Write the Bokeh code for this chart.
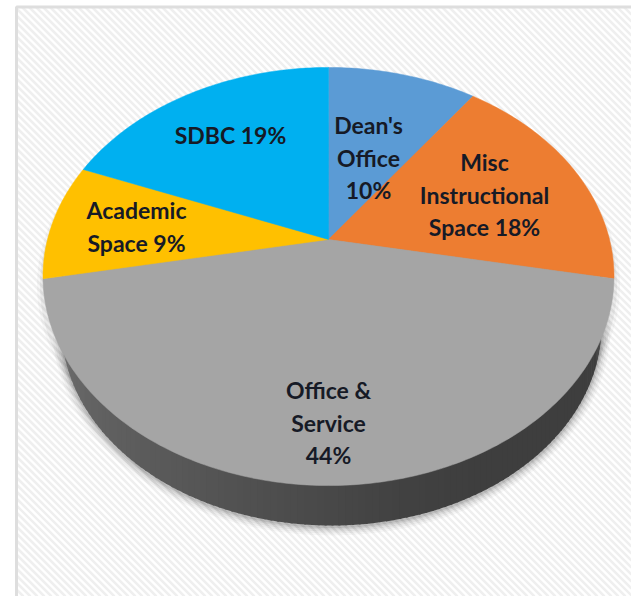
from math import cos, sin, pi
from bokeh.plotting import figure
from bokeh.models import ColumnDataSource
from bokeh.core.properties import value
from bokeh.embed import file_html
from bokeh.resources import INLINE

# Slices run clockwise from twelve o'clock
categories = ["Dean's Office", "Misc Instructional Space", "Office & Service", "Academic Space", "SDBC"]
shares = [10, 18, 44, 9, 19]
colors = ["#5B9BD5", "#ED7D31", "#A5A5A5", "#FFC000", "#00B0F0"]
label_lines = [
    ["Dean's", "Office", "10%"],
    ["Misc", "Instructional", "Space 18%"],
    ["Office &", "Service", "44%"],
    ["Academic", "Space 9%"],
    ["SDBC 19%"],
]
label_x = [368, 484, 328, 136, 230]
label_y = [157, 194, 422, 226, 134]

W, H = 631, 596
APEX_X, APEX_Y = 328, 239        # where the slices meet
SCALE_X, SCALE_Y, TILT = 281, 202.5, 0.177
BASE_X, BASE_Y, BASE_A, BASE_B = 331, 325.5, 270, 199.5
PANEL_L, PANEL_T = 16, 6.5


def project(pct):
    """Tilted-disc position of a point on the rim, given cumulative percent."""
    t = 2 * pi * pct / 100
    px, py = sin(t), cos(t)
    d = 1 + TILT * py
    return APEX_X + SCALE_X * px / d, APEX_Y - SCALE_Y * py / d


def rim(a, b, step=0.25):
    n = max(2, int((b - a) / step) + 1)
    pts = [project(a + (b - a) * i / (n - 1)) for i in range(n)]
    return [q[0] for q in pts], [q[1] for q in pts]


def base_pt(t):
    return BASE_X + BASE_A * cos(t), BASE_Y + BASE_B * sin(t)


p = figure(width=W, height=H, x_range=(0, W), y_range=(H, 0), toolbar_location=None,
           output_backend="svg", min_border=0, outline_line_color=None,
           background_fill_color="white", border_fill_color="white")
p.axis.visible = False
p.grid.visible = False

# Panel: pale diagonal weave inside a light grey frame
stripe_xs, stripe_ys = [], []
for c in range(-W, H, 7):
    # line y = x + c, trimmed to the panel
    x0 = max(PANEL_L, PANEL_T - c)
    x1 = min(W, H - c)
    if x1 > x0:
        stripe_xs.append([x0, x1])
        stripe_ys.append([x0 + c, x1 + c])
p.multi_line(stripe_xs, stripe_ys, line_color="#EFEFEF", line_width=2.5)
p.quad(left=[PANEL_L], right=[W + 5], top=[PANEL_T], bottom=[H + 5], fill_color=None,
       line_color="#DEDEDE", line_width=3)

# Soft drop shadow around the disc's lower rim
rim_all_x, rim_all_y = rim(0, 100)
for grow, alpha in [(9, 0.03), (7, 0.04), (5, 0.05), (3, 0.07), (1.5, 0.09)]:
    n = 180
    xs = [BASE_X + (BASE_A + grow) * cos(2 * pi * i / n) for i in range(n)]
    ys = [BASE_Y + 1 + (BASE_B + grow) * sin(2 * pi * i / n) for i in range(n)]
    p.patch(xs, ys, fill_color="#000000", fill_alpha=alpha, line_color=None)
for grow, alpha in [(6, 0.03), (3, 0.05)]:
    xs = [APEX_X + (x - APEX_X) * (1 + grow / 286) for x in rim_all_x]
    ys = [y + 9 for y in rim_all_y]
    p.patch(xs, ys, fill_color="#000000", fill_alpha=alpha, line_color=None)

# Side wall, shaded from mid grey on the left to charcoal on the right
wall_stops = [(0.00, 112), (0.12, 100), (0.30, 88), (0.45, 76), (0.58, 66), (0.70, 62), (1.00, 62)]


def wall_shade(f):
    for (f0, g0), (f1, g1) in zip(wall_stops, wall_stops[1:]):
        if f <= f1:
            return int(g0 + (g1 - g0) * (f - f0) / (f1 - f0))
    return wall_stops[-1][1]


n_wall = 120
t0, t1 = pi * 0.985, pi * 0.015
for i in range(n_wall):
    a = t0 + (t1 - t0) * i / n_wall
    b = t0 + (t1 - t0) * (i + 1.3) / n_wall
    xa, ya = base_pt(a)
    xb, yb = base_pt(b)
    g = wall_shade(i / n_wall)
    p.patch([xa, xb, xb, xa], [ya, yb, yb - 70, ya - 70],
            fill_color=f"#{g:02x}{g:02x}{g:02x}", line_color=None)

# Top face
start = 0
for share, color in zip(shares, colors):
    xs, ys = rim(start, start + share)
    p.patch(xs + [APEX_X], ys + [APEX_Y], fill_color=color, line_color=color, line_width=0.5)
    start += share

# Labels, one line per text so the wrapping stays as written
line_h = 32.5
tx, ty, tt = [], [], []
for lines, x, y in zip(label_lines, label_x, label_y):
    for i, line in enumerate(lines):
        tx.append(x)
        ty.append(y - (len(lines) - 1) * line_h / 2 + i * line_h)
        tt.append(line)
src = ColumnDataSource(dict(x=tx, y=ty, t=tt))
p.text("x", "y", text="t", source=src, text_font=value("Lato"), text_font_size="23px",
       text_font_style="bold", text_color="#161a26", text_align="center",
       text_baseline="middle")

open("out.html", "w").write(file_html(p, INLINE))
